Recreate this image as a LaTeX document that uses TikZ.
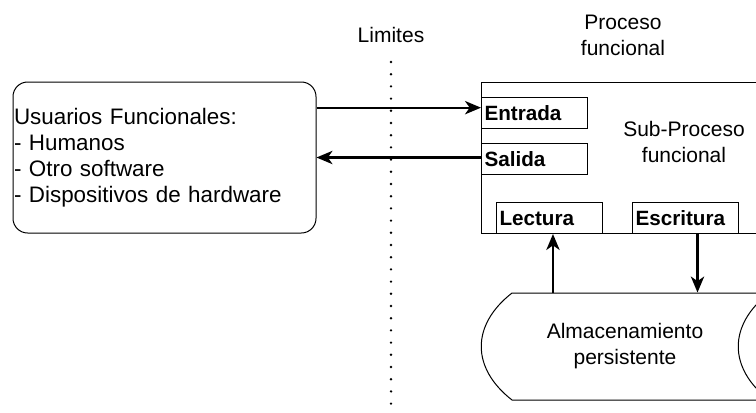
\documentclass[tikz,border=0pt]{standalone}
\usepackage{fontspec}
\setmainfont{Liberation Sans}
\usetikzlibrary{arrows.meta,calc}
\tikzset{every picture/.style={line width=0.75pt}}
\tikzset{
  campo/.style={draw, anchor=north west, font=\fontsize{15.5}{18.75}\selectfont\bfseries, text width=75pt, inner xsep=2.25pt, inner ysep=0pt, minimum height=23.25pt, align=left},
  etiqueta/.style={font=\fontsize{15.75}{19.5}\selectfont, align=center, inner sep=0.75pt},
  flujo/.style={line width=1.6pt, -{Stealth[length=12pt,width=10pt,inset=3.5pt]}},
  limite/.style={line width=2pt, line cap=round, dash pattern=on 0pt off 9.15pt}
}

\begin{document}
\begin{tikzpicture}[x=0.75pt,y=0.75pt,yscale=-1,xscale=1]
\clip (0,0) rectangle (756,412);
%Rounded Rect
\node (usuarios) [draw, rounded corners=11pt, text width=225.75pt, inner xsep=0.75pt, minimum height=113.25pt, align=left, font=\fontsize{16.8}{19.5}\selectfont] at (164.5,157.5) {Usuarios Funcionales:\\- Humanos\\- Otro software\\- Dispositivos de hardware};
%Shape: Rectangle
\node (proceso) [draw, anchor=north west, minimum width=239.25pt, minimum height=113.25pt, inner sep=0pt] at (481,82) {};
%Shape: Rectangle
\node (entrada) [campo] at (481,97) {Entrada};
\node (salida) [campo] at (481,143) {Salida};
\node (lectura) [campo] at (496,202) {Lectura};
\node (escritura) [campo] at (632,202) {Escritura};
% Text Node
\node (limites) [etiqueta] at (391,35) {Limites};
% Text Node
\node (proclabel) [etiqueta] at (623,35) {Proceso\\funcional};
% Text Node
\node (subproc) [etiqueta] at (684,142) {Sub-Proceso\\funcional};
% Text Node
\node (almacen) [etiqueta, minimum width=216pt, minimum height=80.25pt] at (625,346.5) {Almacenamiento\\persistente};
%Shape: Data Storage
\draw (512,293) -- (769,293) .. controls (728,325) and (728,368) .. (769,400) -- (512,400) .. controls (471,368) and (471,325) .. cycle;
%Straight Lines
\coordinate (e_in) at ([yshift=-4pt]entrada.west);
\draw[flujo] (e_in -| usuarios.east) -- (e_in);
%Straight Lines
\draw[flujo] (usuarios.east -| salida.west) -- (usuarios.east);
%Straight Lines
\coordinate (lee) at ([xshift=2.6pt]lectura.south);
\draw[flujo] (lee |- almacen.north) -- (lee);
%Straight Lines
\coordinate (escribe) at ([xshift=9pt]escritura.south);
\draw[flujo] (escribe) -- (escribe |- almacen.north);
%Straight Lines
\coordinate (lim_a) at (391,62);
\coordinate (lim_b) at (391,420);
\draw[limite] (lim_a) -- (lim_b);
\end{tikzpicture}
\end{document}
